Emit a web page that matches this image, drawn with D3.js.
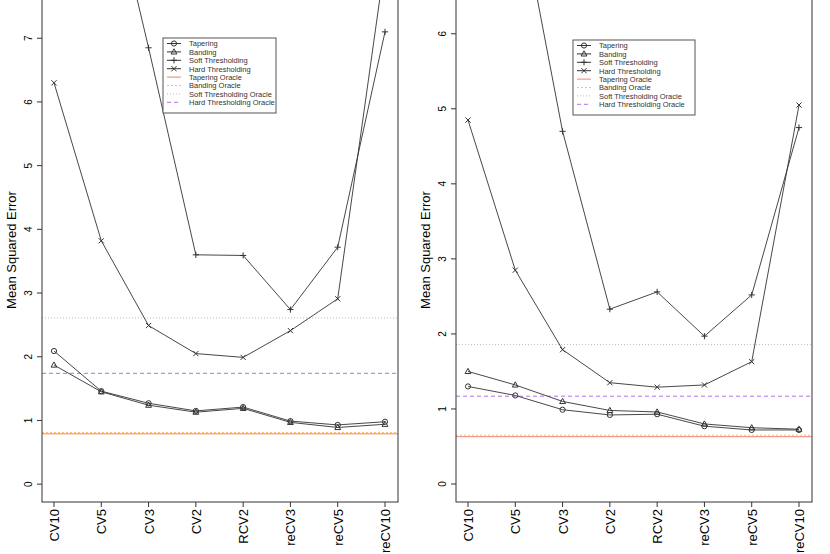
<!DOCTYPE html>
<html><head><meta charset="utf-8">
<script src="https://cdn.jsdelivr.net/npm/d3@7"></script>
<style>body{margin:0;background:#fff}text{font-family:"Liberation Sans",Arial,sans-serif}</style>
</head><body><svg id="chart" width="830" height="554"></svg>
<script>
const categories = ["CV10","CV5","CV3","CV2","RCV2","reCV3","reCV5","reCV10"];
const seriesNames = ["Tapering","Banding","Soft Thresholding","Hard Thresholding"];
const oracleNames = ["Tapering Oracle"," Banding Oracle","Soft Thresholding Oracle","Hard Thresholding Oracle"];

const leftTapering = [2.09,1.46,1.27,1.15,1.21,0.99,0.93,0.98];
const leftBanding = [1.87,1.45,1.24,1.13,1.19,0.97,0.89,0.94];
const leftSoft = [14,10,6.85,3.6,3.59,2.74,3.72,7.1];
const leftHard = [6.3,3.82,2.49,2.05,1.99,2.41,2.91,8.2];
const leftOracles = [0.79,0.81,2.61,1.74];
const leftTicks = [0,1,2,3,4,5,6,7];

const rightTapering = [1.3,1.18,0.99,0.92,0.93,0.77,0.72,0.72];
const rightBanding = [1.5,1.32,1.1,0.98,0.96,0.8,0.75,0.73];
const rightSoft = [12,8,4.7,2.33,2.56,1.97,2.52,4.75];
const rightHard = [4.85,2.85,1.79,1.35,1.29,1.32,1.63,5.05];
const rightOracles = [0.63,0.65,1.86,1.17];
const rightTicks = [0,1,2,3,4,5,6];

const oracleStyles = [
  {color:"#f08070", dash:null},
  {color:"#ffc060", dash:"2,2"},
  {color:"#bbbbbb", dash:"1,2"},
  {color:"#b070f0", dash:"4,3"}
];
const symbols = ["circle","triangle","plus","cross"];

const svg = d3.select("#chart");

function drawSymbol(g, type, x, y) {
  const s = 2.6;
  if (type === "circle") g.append("circle").attr("cx", x).attr("cy", y).attr("r", s).attr("fill", "none").attr("stroke", "#333");
  else if (type === "triangle") g.append("path").attr("d", `M${x},${y-s-0.5}L${x+s+0.3},${y+s-0.5}L${x-s-0.3},${y+s-0.5}Z`).attr("fill", "none").attr("stroke", "#333");
  else if (type === "plus") g.append("path").attr("d", `M${x-s-0.5},${y}H${x+s+0.5}M${x},${y-s-0.5}V${y+s+0.5}`).attr("stroke", "#333");
  else g.append("path").attr("d", `M${x-s},${y-s}L${x+s},${y+s}M${x-s},${y+s}L${x+s},${y-s}`).attr("stroke", "#333");
}

function panel(cfg) {
  const g = svg.append("g");
  const x = d3.scalePoint().domain(categories).range([cfg.x0 + 12, cfg.x1 - 13]);
  const y = d3.scaleLinear().domain(cfg.ydom).range([502, 0]);
  const clipId = "clip" + cfg.x0;
  g.append("clipPath").attr("id", clipId).append("rect")
    .attr("x", cfg.x0).attr("y", 0).attr("width", cfg.x1 - cfg.x0).attr("height", 502);
  const plot = g.append("g").attr("clip-path", `url(#${clipId})`);

  cfg.oracles.forEach((v, i) => {
    plot.append("line").attr("x1", cfg.x0).attr("x2", cfg.x1)
      .attr("y1", y(v)).attr("y2", y(v))
      .attr("stroke", oracleStyles[i].color).attr("stroke-width", 1)
      .attr("stroke-dasharray", oracleStyles[i].dash);
  });

  const line = d3.line().x((d, i) => x(categories[i])).y(d => y(d));
  cfg.series.forEach((s, k) => {
    plot.append("path").attr("d", line(s)).attr("fill", "none").attr("stroke", "#333").attr("stroke-width", 0.9);
    s.forEach((v, i) => drawSymbol(plot, symbols[k], x(categories[i]), y(v)));
  });

  g.append("rect").attr("x", cfg.x0).attr("y", -5).attr("width", cfg.x1 - cfg.x0).attr("height", 507)
    .attr("fill", "none").attr("stroke", "#333");

  // y axis
  const ya = g.append("g").attr("transform", `translate(${cfg.x0},0)`);
  cfg.ticks.forEach(t => {
    ya.append("line").attr("x1", 0).attr("x2", -5).attr("y1", y(t)).attr("y2", y(t)).attr("stroke", "#333");
    ya.append("text").attr("transform", `translate(-10,${y(t)}) rotate(-90)`)
      .attr("text-anchor", "middle").attr("font-size", 10).text(t);
  });
  g.append("text").attr("transform", `translate(${cfg.x0 - 26},${250}) rotate(-90)`)
    .attr("text-anchor", "middle").attr("font-size", 13).text("Mean Squared Error");

  // x axis
  categories.forEach(c => {
    g.append("line").attr("x1", x(c)).attr("x2", x(c)).attr("y1", 502).attr("y2", 507).attr("stroke", "#333");
    g.append("text").attr("transform", `translate(${x(c) + 5},${509}) rotate(-90)`)
      .attr("text-anchor", "end").attr("font-size", 13).text(c);
  });

  // legend
  const lg = g.append("g").attr("transform", `translate(${cfg.lx},${cfg.ly})`);
  lg.append("rect").attr("width", cfg.lw).attr("height", 75).attr("fill", "#fff").attr("stroke", "#555");
  seriesNames.concat(oracleNames).forEach((n, i) => {
    const yy = 5.5 + i * 8.4;
    if (i < 4) {
      lg.append("line").attr("x1", 4).attr("x2", 18).attr("y1", yy).attr("y2", yy).attr("stroke", "#333");
      drawSymbol(lg, symbols[i], 11, yy);
    } else {
      const st = oracleStyles[i - 4];
      lg.append("line").attr("x1", 4).attr("x2", 18).attr("y1", yy).attr("y2", yy)
        .attr("stroke", st.color).attr("stroke-dasharray", st.dash);
    }
    lg.append("text").attr("x", 26).attr("y", yy + 2.8).attr("font-size", 7.5).attr("fill", "#333").text(n);
  });
}

panel({x0: 42, x1: 398, ydom: [-0.28, 7.6], ticks: leftTicks, oracles: leftOracles,
  series: [leftTapering, leftBanding, leftSoft, leftHard], lx: 163, ly: 38, lw: 113});
panel({x0: 456, x1: 812, ydom: [-0.24, 6.45], ticks: rightTicks, oracles: rightOracles,
  series: [rightTapering, rightBanding, rightSoft, rightHard], lx: 573, ly: 40, lw: 122});
</script></body></html>
